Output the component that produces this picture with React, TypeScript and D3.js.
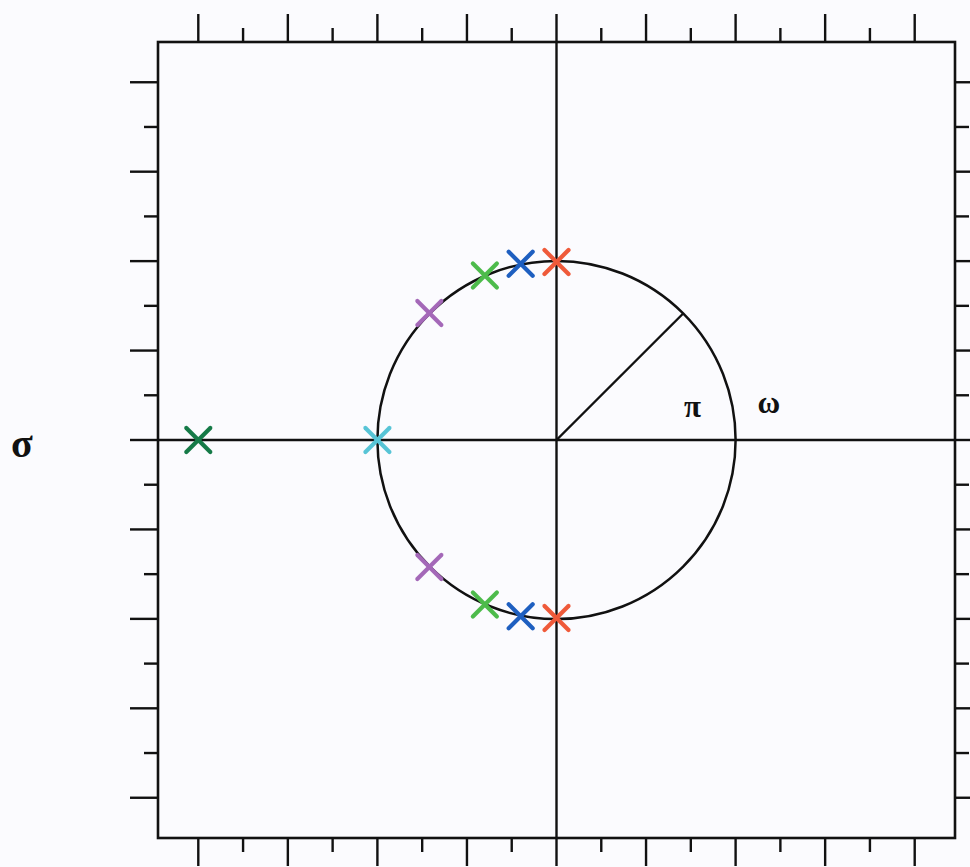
import React from "react";
import * as d3 from "d3";

const W = 970;
const H = 867;

// axis domain (data units) and tick positions
const domain: [number, number] = [-4.45, 4.45];
const majorTicks = [-4, -3, -2, -1, 0, 1, 2, 3, 4];
const minorTicks = [-3.5, -2.5, -1.5, -0.5, 0.5, 1.5, 2.5, 3.5];

// poles (real, imaginary) and colours
const poleRe = [0, -0.4, -0.8, -1.42, -2, -4, -1.42, -0.8, -0.4, 0];
const poleIm = [1.99, 1.97, 1.84, 1.42, 0, 0, -1.42, -1.84, -1.97, -1.99];
const poleColor = ["#ef5a3a", "#1e5fc0", "#4dbb4b", "#a468b8", "#57c4d6", "#157a47", "#a468b8", "#4dbb4b", "#1e5fc0", "#ef5a3a"];

const circleRadius = 2;
const radiusAngleDeg = 45;

const labels = ["π", "ω", "σ"];
const labelRe = [1.52, 2.37, -5.97];
const labelIm = [0.26, 0.3, -0.19];

export default function App() {
  const x = d3.scaleLinear().domain(domain).range([158, 955]);
  const y = d3.scaleLinear().domain(domain).range([838, 42]);
  const unit = x(1) - x(0);
  const majorLen = 28;
  const minorLen = 14;
  const a = (radiusAngleDeg * Math.PI) / 180;
  const arm = 12;
  const sw = 2.4;

  return (
    <svg width={W} height={H} style={{ position: "absolute", left: 0, top: 0, background: "#fbfbfe" }}>
      <rect x={0} y={0} width={W} height={H} fill="#fbfbfe" />
      {/* ticks on all four sides */}
      {majorTicks.map((t) => (
        <g key={"mx" + t} stroke="#111" strokeWidth={sw}>
          <line x1={x(t)} x2={x(t)} y1={y(domain[1])} y2={y(domain[1]) - majorLen} />
          <line x1={x(t)} x2={x(t)} y1={y(domain[0])} y2={y(domain[0]) + majorLen} />
          <line y1={y(t)} y2={y(t)} x1={x(domain[0])} x2={x(domain[0]) - majorLen} />
          <line y1={y(t)} y2={y(t)} x1={x(domain[1])} x2={x(domain[1]) + majorLen} />
        </g>
      ))}
      {minorTicks.map((t) => (
        <g key={"mn" + t} stroke="#111" strokeWidth={sw}>
          <line x1={x(t)} x2={x(t)} y1={y(domain[1])} y2={y(domain[1]) - minorLen} />
          <line x1={x(t)} x2={x(t)} y1={y(domain[0])} y2={y(domain[0]) + minorLen} />
          <line y1={y(t)} y2={y(t)} x1={x(domain[0])} x2={x(domain[0]) - minorLen} />
          <line y1={y(t)} y2={y(t)} x1={x(domain[1])} x2={x(domain[1]) + minorLen} />
        </g>
      ))}
      {/* frame */}
      <rect
        x={x(domain[0])}
        y={y(domain[1])}
        width={x(domain[1]) - x(domain[0])}
        height={y(domain[0]) - y(domain[1])}
        fill="#fbfbfe"
        stroke="#111"
        strokeWidth={2.6}
      />
      {/* axes */}
      <line x1={x(domain[0])} x2={x(domain[1])} y1={y(0)} y2={y(0)} stroke="#111" strokeWidth={sw} />
      <line x1={x(0)} x2={x(0)} y1={y(domain[1])} y2={y(domain[0])} stroke="#111" strokeWidth={sw} />
      {/* circle */}
      <circle cx={x(0)} cy={y(0)} r={circleRadius * unit} fill="none" stroke="#111" strokeWidth={2.5} />
      <line
        x1={x(0)}
        y1={y(0)}
        x2={x(circleRadius * Math.cos(a))}
        y2={y(circleRadius * Math.sin(a))}
        stroke="#111"
        strokeWidth={sw}
      />
      {/* poles */}
      {poleRe.map((re, i) => {
        const cx = x(re);
        const cy = y(poleIm[i]);
        return (
          <g key={"p" + i} stroke={poleColor[i]} strokeWidth={4.2} strokeLinecap="round">
            <line x1={cx - arm} y1={cy - arm} x2={cx + arm} y2={cy + arm} />
            <line x1={cx - arm} y1={cy + arm} x2={cx + arm} y2={cy - arm} />
          </g>
        );
      })}
      {/* labels */}
      {labels.map((l, i) => (
        <text
          key={l}
          x={x(labelRe[i])}
          y={y(labelIm[i])}
          textAnchor="middle"
          fontFamily="'Liberation Serif', 'DejaVu Serif', serif"
          fontSize={i === 2 ? 40 : 31}
          fontWeight="bold"
          fill="#111"
        >
          {l}
        </text>
      ))}
    </svg>
  );
}
